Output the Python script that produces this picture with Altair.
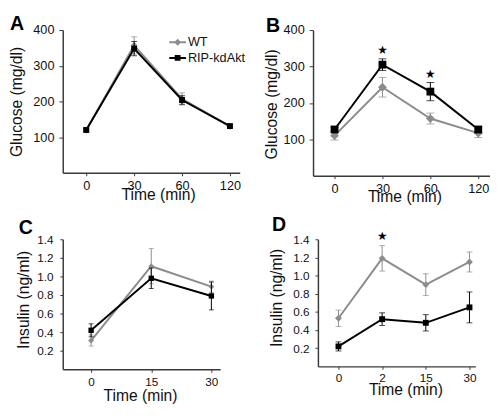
import json
import altair as alt
import pandas as pd

FONT = "Liberation Sans"
GRAY = "#8c8c8c"
BLACK = "#000000"
AXIS_COLOR = "#3a3a3a"

series = ["WT", "RIP-kdAkt"]

# Panel A: glucose tolerance
A_time = ["0", "30", "60", "120"]
A_wt_mean = [120, 357, 207, 130]
A_wt_err = [5, 24, 17, 5]
A_kd_mean = [120, 348, 204, 131]
A_kd_err = [5, 20, 12, 4]

# Panel B: glucose tolerance
B_time = ["0", "30", "60", "120"]
B_wt_mean = [110, 243, 157, 117]
B_wt_err = [12, 27, 15, 12]
B_kd_mean = [127, 305, 231, 127]
B_kd_err = [6, 16, 25, 8]
B_star_time = ["30", "60"]
B_star_y = [344, 279]

# Panel C: insulin
C_time = ["0", "15", "30"]
C_wt_mean = [0.31, 1.11, 0.89]
C_wt_err = [0.06, 0.19, 0.06]
C_kd_mean = [0.42, 0.98, 0.79]
C_kd_err = [0.07, 0.11, 0.15]

# Panel D: insulin
D_time = ["0", "2", "15", "30"]
D_wt_mean = [0.53, 1.19, 0.90, 1.15]
D_wt_err = [0.09, 0.14, 0.12, 0.11]
D_kd_mean = [0.22, 0.52, 0.48, 0.65]
D_kd_err = [0.05, 0.07, 0.09, 0.17]
D_star_time = ["2"]
D_star_y = [1.43]

glucose_ticks = [100, 200, 300, 400]
insulin_ticks = [0.2, 0.4, 0.6, 0.8, 1.0, 1.2, 1.4]

# legend symbols: line segment with marker
PATH_WT = "M-1,-0.12H1V0.12H-1Z M0,-0.42L0.42,0L0,0.42L-0.42,0Z"
PATH_KD = "M-1,-0.12H1V0.12H-1Z M-0.35,-0.35H0.35V0.35H-0.35Z"


def panel(letter, times, wt_m, wt_e, kd_m, kd_e, star_t, star_y, c):
    rows = []
    for s, m, e in ((series[0], wt_m, wt_e), (series[1], kd_m, kd_e)):
        for i, t in enumerate(times):
            rows.append(dict(idx=i, time=t, series=s, mean=m[i],
                             lo=m[i] - e[i], hi=m[i] + e[i]))
    df = pd.DataFrame(rows)

    xaxis = alt.Axis(values=list(range(len(times))),
                     labelExpr=json.dumps(times) + "[datum.value]",
                     grid=False, domainColor=AXIS_COLOR, domainWidth=1.5,
                     tickColor=AXIS_COLOR, tickWidth=1, tickSize=c["xtick"],
                     labelPadding=c["xpad"], labelFontSize=c["xlab"],
                     labelColor="#111", labelFont=FONT,
                     titleFont=FONT, titleFontSize=16, titleFontWeight="normal",
                     titleColor="#111", titleX=c["xtx"], titleY=c["xty"],
                     titleBaseline="alphabetic", titleAlign="center")
    yaxis = alt.Axis(values=c["yticks"], format=c["fmt"], grid=False,
                     domainColor=AXIS_COLOR, domainWidth=1.5,
                     tickColor=AXIS_COLOR, tickWidth=1, tickSize=c["ytick"],
                     labelPadding=c["ypad"], labelFontSize=c["ylab"],
                     labelColor="#111", labelFont=FONT,
                     titleFont=FONT, titleFontSize=16, titleFontWeight="normal",
                     titleColor="#111", titleX=c["ytx"], titleY=c["yty"],
                     titleBaseline="alphabetic", titleAlign="center", titleAngle=270)
    xscale = alt.Scale(domain=c["xdom"], nice=False, zero=False)
    yscale = alt.Scale(domain=c["ydom"], nice=False, zero=False)

    def X():
        return alt.X("idx:Q", scale=xscale, axis=xaxis, title="Time (min)")

    def Y(f):
        return alt.Y(f + ":Q", scale=yscale, axis=yaxis, title=c["ytitle"])

    layers = []
    for s, col, shp, sz in ((series[0], GRAY, "diamond", c["dia"]),
                            (series[1], BLACK, "square", c["sq"])):
        base = alt.Chart(df).transform_filter(alt.datum.series == s)
        layers.append(base.mark_rule(color=col, strokeWidth=1).encode(
            x=X(), y=Y("lo"), y2=alt.Y2("hi:Q")))
        layers.append(base.mark_tick(color=col, orient="horizontal",
                                     size=c["cap"], thickness=1).encode(x=X(), y=Y("hi")))
        layers.append(base.mark_tick(color=col, orient="horizontal",
                                     size=c["cap"], thickness=1).encode(x=X(), y=Y("lo")))
        layers.append(base.mark_line(color=col, strokeWidth=2).encode(
            x=X(), y=Y("mean"), order="idx:Q"))
        layers.append(base.mark_point(color=col, shape=shp, size=sz, filled=True,
                                      opacity=1).encode(x=X(), y=Y("mean")))

    if star_t:
        sdf = pd.DataFrame({"idx": [times.index(t) for t in star_t], "y": star_y})
        layers.append(alt.Chart(sdf).mark_text(text="★", font="DejaVu Sans",
                                               fontSize=12, color=BLACK,
                                               baseline="middle").encode(
            x=X(), y=Y("y")))

    if c.get("legend"):
        leg = alt.Legend(title=None, orient="none", legendX=c["legx"],
                         legendY=c["legy"], padding=0, labelFont=FONT,
                         labelFontSize=13, labelColor="#111", symbolSize=289,
                         symbolStrokeWidth=0, rowPadding=-1, labelOffset=2)
        layers.append(alt.Chart(df).transform_filter("false").mark_point(
            filled=True, opacity=1).encode(
            fill=alt.Fill("series:N", scale=alt.Scale(domain=series, range=[GRAY, BLACK]),
                          legend=leg),
            shape=alt.Shape("series:N", scale=alt.Scale(domain=series, range=[PATH_WT, PATH_KD]),
                            legend=leg)))

    return alt.layer(*layers).properties(
        width=c["w"], height=c["h"],
        title=alt.TitleParams(letter, anchor="start", frame="bounds", fontSize=20,
                              fontWeight="bold", font=FONT, baseline="alphabetic",
                              offset=c["toff"], dy=c["tdy"], dx=c["tdx"], color=BLACK))


glu = dict(yticks=glucose_ticks, fmt="d", ydom=[0, 400], ytitle="Glucose (mg/dl)",
           xlab=13, ylab=13, ytick=4, ypad=5, xtick=3, xpad=4)
ins = dict(yticks=insulin_ticks, fmt=".1f", ydom=[0, 1.4], ytitle="Insulin (ng/ml)",
           xlab=12, ylab=12, ytick=3, xtick=3)

cA = dict(glu, w=181, h=146, xdom=[-0.49, 3.204], ytx=-42, yty=73, xtx=97.5, xty=27.5,
          toff=-18, tdy=7.5, tdx=1, sq=36, dia=49, cap=6, legend=True, legx=109, legy=4)
cB = dict(glu, w=181, h=149, xdom=[-0.449, 3.245], ytx=-37, yty=75.5, xtx=93.5, xty=26.5,
          toff=-18, tdy=9.5, tdx=2, sq=64, dia=81, cap=8)
cC = dict(ins, w=161, h=133, xdom=[-0.4715, 2.146], ypad=7, xpad=5, ytx=-35, yty=61.5,
          xtx=79, xty=32, toff=-18, tdy=3, tdx=3, sq=30, dia=36, cap=5)
cD = dict(ins, w=161, h=130, xdom=[-0.47, 3.134], ypad=6, xpad=3, ytx=-37, yty=59.5,
          xtx=89.5, xty=29, toff=-18, tdy=2.8, tdx=3, sq=36, dia=49, cap=6)

pA = panel("A", A_time, A_wt_mean, A_wt_err, A_kd_mean, A_kd_err, [], [], cA)
pB = panel("B", B_time, B_wt_mean, B_wt_err, B_kd_mean, B_kd_err, B_star_time, B_star_y, cB)
pC = panel("C", C_time, C_wt_mean, C_wt_err, C_kd_mean, C_kd_err, [], [], cC)
pD = panel("D", D_time, D_wt_mean, D_wt_err, D_kd_mean, D_kd_err, D_star_time, D_star_y, cD)

top = alt.hconcat(pA, pB, spacing=23)
bottom = alt.hconcat(pC, pD, spacing=50)
chart = alt.concat(top, bottom, columns=1, spacing=11, align="none").properties(
    padding={"left": 1, "top": 1, "right": 0, "bottom": 0},
    background="white",
).configure_view(stroke=None)

chart.save("out.html", embed_options={"renderer": "svg", "actions": False})
